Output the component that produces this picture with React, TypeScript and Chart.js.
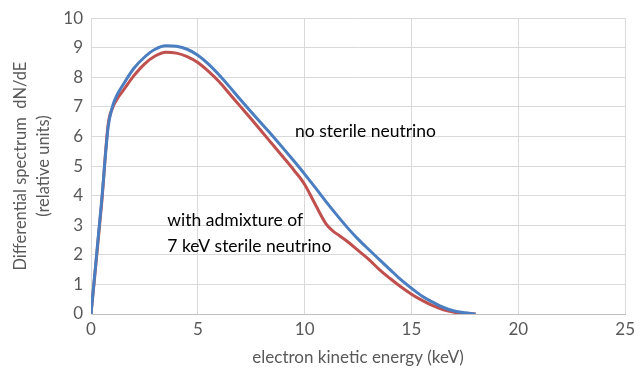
import React, { useEffect, useRef } from "react";
import { Chart, registerables } from "chart.js";

Chart.register(...registerables);

const energyBlue = [0, 0.5, 0.8, 1, 1.25, 1.5, 2, 2.5, 3, 3.5, 4, 4.5, 5, 5.5, 6, 6.5, 7, 7.5, 8, 8.5, 9, 9.5, 10, 10.5, 11, 11.5, 12, 12.5, 13, 13.5, 14, 14.5, 15, 15.5, 16, 16.5, 17, 17.5, 18];
const noSterile = [0, 3.85, 6.3, 7.0, 7.45, 7.75, 8.3, 8.68, 8.95, 9.07, 9.05, 8.95, 8.75, 8.45, 8.08, 7.67, 7.24, 6.83, 6.42, 6.02, 5.6, 5.17, 4.73, 4.27, 3.8, 3.35, 2.92, 2.53, 2.18, 1.84, 1.5, 1.16, 0.87, 0.6, 0.4, 0.22, 0.1, 0.04, 0];

const energyRed = [0, 0.5, 0.8, 1, 1.25, 1.5, 2, 2.5, 3, 3.5, 4, 4.5, 5, 5.5, 6, 6.5, 7, 7.5, 8, 8.5, 9, 9.5, 10, 10.5, 11, 11.3, 11.6, 12, 12.5, 13, 13.5, 14, 14.5, 15, 15.5, 16, 16.5, 17, 17.5, 18];
const withSterile = [0, 3.75, 6.4, 6.95, 7.3, 7.55, 8.05, 8.45, 8.72, 8.85, 8.82, 8.7, 8.5, 8.2, 7.85, 7.43, 7.01, 6.59, 6.16, 5.73, 5.3, 4.86, 4.38, 3.7, 3.05, 2.82, 2.66, 2.45, 2.15, 1.85, 1.5, 1.2, 0.92, 0.67, 0.46, 0.28, 0.14, 0.06, 0.02, 0];

const xTicks = [0, 5, 10, 15, 20, 25];
const yTicks = [0, 1, 2, 3, 4, 5, 6, 7, 8, 9, 10];

const annotations = [
  { text: "no sterile neutrino", x: 9.55, y: 6.17 },
  { text: "with admixture of", x: 3.57, y: 3.15 },
  { text: "7 keV sterile neutrino", x: 3.57, y: 2.28 },
];

const FONT = "Lato, 'Open Sans', sans-serif";

const textPlugin = {
  id: "annot",
  afterDatasetsDraw(chart: any) {
    const ctx = chart.ctx;
    const xs = chart.scales.x;
    const ys = chart.scales.y;
    ctx.save();
    ctx.fillStyle = "#000000";
    ctx.font = `17.5px ${FONT}`;
    ctx.textAlign = "left";
    ctx.textBaseline = "middle";
    annotations.forEach((a) => {
      ctx.fillText(a.text, xs.getPixelForValue(a.x), ys.getPixelForValue(a.y));
    });
    ctx.restore();
  },
};

export default function App() {
  const ref = useRef<HTMLCanvasElement>(null);
  useEffect(() => {
    const toPts = (xs: number[], ys: number[]) => xs.map((x, i) => ({ x, y: ys[i] }));
    const chart = new Chart(ref.current!, {
      type: "line",
      data: {
        datasets: [
          {
            label: "no sterile neutrino",
            data: toPts(energyBlue, noSterile),
            borderColor: "rgb(74,126,193)",
            borderWidth: 3,
            pointRadius: 0,
            cubicInterpolationMode: "monotone",
            fill: false,
          },
          {
            label: "with admixture of 7 keV sterile neutrino",
            data: toPts(energyRed, withSterile),
            borderColor: "rgb(192,80,77)",
            borderWidth: 3,
            pointRadius: 0,
            cubicInterpolationMode: "monotone",
            fill: false,
          },
        ],
      },
      options: {
        animation: false,
        responsive: false,
        maintainAspectRatio: false,
        layout: { padding: { top: 16, right: 10, left: 0, bottom: 0 } },
        plugins: { legend: { display: false }, tooltip: { enabled: false } },
        scales: {
          x: {
            type: "linear",
            min: 0,
            max: 25,
            afterBuildTicks: (s: any) => {
              s.ticks = xTicks.map((v) => ({ value: v }));
            },
            afterFit: (s: any) => {
              s.height = 54;
            },
            grid: { color: "#d9d9d9", lineWidth: 1, drawTicks: false },
            border: { color: "#bfbfbf", width: 1 },
            ticks: { color: "#595959", font: { size: 17, family: FONT }, padding: 5, maxRotation: 0 },
            title: {
              display: true,
              text: "electron kinetic energy (keV)",
              color: "#595959",
              font: { size: 17, family: FONT },
              padding: { top: 4, bottom: 0 },
            },
          },
          y: {
            type: "linear",
            min: 0,
            max: 10,
            afterBuildTicks: (s: any) => {
              s.ticks = yTicks.map((v) => ({ value: v }));
            },
            afterFit: (s: any) => {
              s.width = 91;
            },
            grid: { color: "#d9d9d9", lineWidth: 1, drawTicks: false },
            border: { color: "#d9d9d9", width: 1 },
            ticks: { color: "#595959", font: { size: 17, family: FONT }, padding: 8 },
            title: {
              display: true,
              text: ["Differential spectrum  dN/dE", "(relative units)"],
              color: "#595959",
              font: { size: 16.5, family: FONT, lineHeight: 1.35 },
              padding: { top: 10, bottom: 4 },
            },
          },
        },
      },
      plugins: [textPlugin],
    } as any);
    return () => chart.destroy();
  }, []);
  return (
    <div style={{ position: "fixed", left: 0, top: 0, width: 640, height: 368, background: "#fff" }}>
      <canvas ref={ref} width={640} height={368} style={{ width: 640, height: 368 }} />
    </div>
  );
}
